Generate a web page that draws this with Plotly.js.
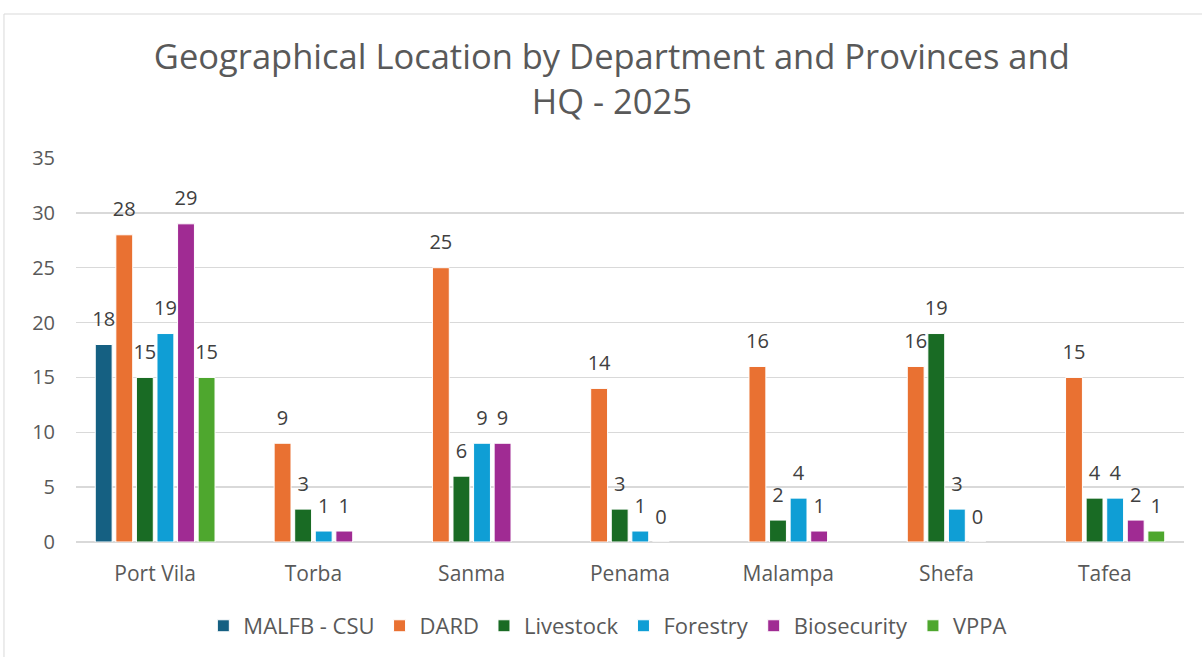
<!DOCTYPE html>
<html>
<head>
<meta charset="utf-8">
<script src="https://cdn.plot.ly/plotly-3.0.1.min.js"></script>
<style>
  html, body { margin: 0; padding: 0; background: #fff; }
  #chart { width: 1202px; height: 657px; }
</style>
</head>
<body>
<div id="chart"></div>
<script>
const locations = ['Port Vila', 'Torba', 'Sanma', 'Penama', 'Malampa', 'Shefa', 'Tafea'];

const malfbCsu    = [18, null, null, null, null, null, null];
const dard        = [28, 9, 25, 14, 16, 16, 15];
const livestock   = [15, 3, 6, 3, 2, 19, 4];
const forestry    = [19, 1, 9, 1, 4, 3, 4];
const biosecurity = [29, 1, 9, 0, 1, 0, 2];
const vppa        = [15, null, null, null, null, null, 1];

const series = [
    { name: 'MALFB - CSU', values: malfbCsu, color: '#156082' },
    { name: 'DARD', values: dard, color: '#e97132' },
    { name: 'Livestock', values: livestock, color: '#196b24' },
    { name: 'Forestry', values: forestry, color: '#0f9ed5' },
    { name: 'Biosecurity', values: biosecurity, color: '#a02b93' },
    { name: 'VPPA', values: vppa, color: '#4ea72e' }
];

const font = 'Open Sans, Liberation Sans, Arial, sans-serif';
const gap = 0.22;

const bars = series.map((s, i) => ({
    type: 'bar',
    name: s.name,
    x: locations,
    y: s.values,
    offsetgroup: 'g' + i,
    marker: { color: s.color, line: { color: '#ffffff', width: 1 } },
    hoverinfo: 'x+y+name'
}));

// value labels, sitting a bit above each bar like in Excel
const labels = series.map((s, i) => ({
    type: 'scatter',
    mode: 'markers+text',
    x: locations,
    y: s.values,
    offsetgroup: 'g' + i,
    text: s.values.map(v => v === null ? '' : String(v)),
    textposition: 'top center',
    textfont: { family: font, size: 20, color: '#404040' },
    marker: { size: 20, color: 'rgba(0,0,0,0)' },
    cliponaxis: false,
    showlegend: false,
    hoverinfo: 'skip'
}));

const layout = {
    width: 1202,
    height: 657,
    paper_bgcolor: '#ffffff',
    plot_bgcolor: '#ffffff',
    margin: { l: 76, r: 18, t: 158, b: 115, autoexpand: false },
    title: {
        text: 'Geographical Location by Department and Provinces and<br>HQ - 2025',
        font: { family: font, size: 34.5, color: '#595959' },
        x: 0.509,
        xanchor: 'center',
        y: 0.895,
        yanchor: 'top'
    },
    barmode: 'group',
    bargap: gap,
    bargroupgap: 0.18,
    scattermode: 'group',
    scattergap: gap,
    xaxis: {
        tickfont: { family: font, size: 21, color: '#595959' },
        showline: false,
        ticks: '',
        showgrid: false,
        ticklabelstandoff: 17
    },
    yaxis: {
        range: [0, 35],
        dtick: 5,
        tickfont: { family: font, size: 20, color: '#595959' },
        gridcolor: '#d9d9d9',
        gridwidth: 1.5,
        zeroline: true,
        zerolinecolor: '#d9d9d9',
        zerolinewidth: 1.5,
        ticks: '',
        showline: false,
        ticklabelstandoff: 20,
        automargin: false
    },
    legend: {
        orientation: 'h',
        x: 0.48,
        xanchor: 'center',
        y: -0.164,
        yanchor: 'top',
        font: { family: font, size: 22, color: '#595959' },
        itemwidth: 30,
        traceorder: 'normal'
    },
    showlegend: true,
    shapes: [{
        type: 'rect',
        xref: 'paper',
        yref: 'paper',
        x0: -0.065,
        x1: 1.1,
        y0: -0.5,
        y1: 1.375,
        line: { color: '#d9d9d9', width: 1 },
        fillcolor: 'rgba(0,0,0,0)',
        layer: 'below'
    }]
};

Plotly.newPlot('chart', bars.concat(labels), layout, { displayModeBar: false, staticPlot: true });
</script>
</body>
</html>
